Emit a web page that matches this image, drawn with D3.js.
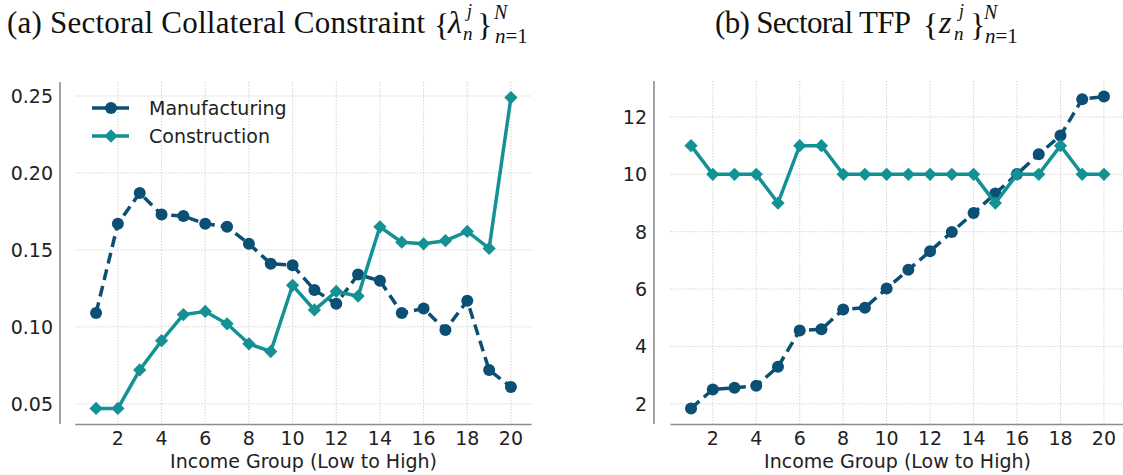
<!DOCTYPE html>
<html>
<head>
<meta charset="utf-8">
<script src="https://cdn.jsdelivr.net/npm/d3@7"></script>
<style>
  html, body { margin: 0; padding: 0; background: #fff; }
  svg { display: block; }
  .tick-label, .axis-title, .legend-label { font-family: "DejaVu Sans", sans-serif; fill: #222; }
  .title { font-family: "Liberation Serif", serif; fill: #111; }
</style>
</head>
<body>
<svg id="chart" width="1123" height="475"></svg>
<script>
// Income groups, lowest to highest
const groups = [1, 2, 3, 4, 5, 6, 7, 8, 9, 10, 11, 12, 13, 14, 15, 16, 17, 18, 19, 20];

// Sectoral collateral constraint lambda
const lambdaManufacturing = [0.109, 0.167, 0.187, 0.173, 0.172, 0.167, 0.165, 0.154, 0.141, 0.140,
                             0.124, 0.115, 0.134, 0.130, 0.109, 0.112, 0.098, 0.117, 0.072, 0.061];
const lambdaConstruction  = [0.047, 0.047, 0.072, 0.091, 0.108, 0.110, 0.102, 0.089, 0.084, 0.127,
                             0.111, 0.123, 0.120, 0.165, 0.155, 0.154, 0.156, 0.162, 0.151, 0.249];

// Sectoral TFP z
const tfpManufacturing = [1.84, 2.50, 2.56, 2.63, 3.29, 4.56, 4.60, 5.29, 5.35, 6.02,
                          6.67, 7.32, 7.99, 8.65, 9.33, 10.01, 10.70, 11.35, 12.62, 12.71];
const tfpConstruction  = [11, 10, 10, 10, 9, 11, 11, 10, 10, 10,
                          10, 10, 10, 10, 9, 10, 10, 11, 10, 10];

// Tick values
const xTicks = [2, 4, 6, 8, 10, 12, 14, 16, 18, 20];
const lambdaTicks = [0.05, 0.10, 0.15, 0.20, 0.25];
const tfpTicks = [2, 4, 6, 8, 10, 12];

const seriesNames = ["Manufacturing", "Construction"];
const colors = { Manufacturing: "#0b4f74", Construction: "#139195" };

const LINE_W = 3.5;
const DOT_R = 6;
const DASH = "11,6";

const svg = d3.select("#chart");

// 5% padding on both ends of a data range
function padded(values) {
  const [lo, hi] = d3.extent(values);
  const m = (hi - lo) * 0.05;
  return [lo - m, hi + m];
}

const diamond = d3.symbol().type(d3.symbolSquare).size(88);

function drawPanel(cfg) {
  const g = svg.append("g");
  const x = d3.scaleLinear().domain(padded(groups)).range([cfg.left, cfg.right]);
  const y = d3.scaleLinear().domain(padded(cfg.manufacturing.concat(cfg.construction)))
    .range([cfg.bottom, cfg.top]);

  // dotted grid
  const grid = g.append("g").attr("stroke", "#d4d4d4").attr("stroke-width", 1)
    .attr("stroke-dasharray", "1.5,1.5");
  grid.selectAll("line.v").data(xTicks).join("line")
    .attr("x1", d => x(d)).attr("x2", d => x(d))
    .attr("y1", cfg.top).attr("y2", cfg.bottom);
  grid.selectAll("line.h").data(cfg.yTicks).join("line")
    .attr("y1", d => y(d)).attr("y2", d => y(d))
    .attr("x1", cfg.left).attr("x2", cfg.right);

  // spines: left one set off from the plot area
  g.append("line").attr("x1", cfg.spineX).attr("x2", cfg.spineX)
    .attr("y1", cfg.top).attr("y2", cfg.bottom)
    .attr("stroke", "#8c8c8c").attr("stroke-width", 1.6);
  g.append("line").attr("x1", cfg.left).attr("x2", cfg.right)
    .attr("y1", cfg.bottom + 0.5).attr("y2", cfg.bottom + 0.5)
    .attr("stroke", "#8c8c8c").attr("stroke-width", 1.6);

  // tick labels
  g.selectAll("text.xt").data(xTicks).join("text")
    .attr("class", "tick-label").attr("font-size", 19)
    .attr("text-anchor", "middle")
    .attr("x", d => x(d)).attr("y", cfg.bottom + 21)
    .text(d => d);
  g.selectAll("text.yt").data(cfg.yTicks).join("text")
    .attr("class", "tick-label").attr("font-size", 19)
    .attr("text-anchor", "end").attr("dominant-baseline", "central")
    .attr("x", cfg.spineX - 7).attr("y", d => y(d))
    .text(cfg.yFormat);

  g.append("text").attr("class", "axis-title").attr("font-size", 19)
    .attr("text-anchor", "middle")
    .attr("x", (cfg.left + cfg.right) / 2).attr("y", cfg.bottom + 44)
    .text("Income Group (Low to High)");

  const line = d3.line().x((d, i) => x(groups[i])).y(d => y(d));

  // Manufacturing: dashed with circles
  g.append("path").datum(cfg.manufacturing)
    .attr("d", line).attr("fill", "none")
    .attr("stroke", colors.Manufacturing).attr("stroke-width", LINE_W)
    .attr("stroke-dasharray", DASH);
  g.selectAll("circle.m").data(cfg.manufacturing).join("circle")
    .attr("cx", (d, i) => x(groups[i])).attr("cy", d => y(d)).attr("r", DOT_R)
    .attr("fill", colors.Manufacturing);

  // Construction: solid with diamonds
  g.append("path").datum(cfg.construction)
    .attr("d", line).attr("fill", "none")
    .attr("stroke", colors.Construction).attr("stroke-width", LINE_W);
  g.selectAll("path.c").data(cfg.construction).join("path")
    .attr("d", diamond)
    .attr("transform", (d, i) => `translate(${x(groups[i])},${y(d)}) rotate(45)`)
    .attr("fill", colors.Construction);

  return { x, y };
}

drawPanel({
  left: 75.3, right: 531.7, top: 82, bottom: 424, spineX: 60,
  manufacturing: lambdaManufacturing, construction: lambdaConstruction,
  yTicks: lambdaTicks, yFormat: d3.format(".2f")
});

drawPanel({
  left: 670.4, right: 1124.6, top: 81, bottom: 424, spineX: 654,
  manufacturing: tfpManufacturing, construction: tfpConstruction,
  yTicks: tfpTicks, yFormat: d3.format("d")
});

// Legend
const legend = svg.append("g");
seriesNames.forEach((name, i) => {
  const ly = 108 + i * 28;
  const c = colors[name];
  legend.append("line").attr("x1", 92).attr("x2", 129).attr("y1", ly).attr("y2", ly)
    .attr("stroke", c).attr("stroke-width", LINE_W);
  if (name === "Manufacturing") {
    legend.append("circle").attr("cx", 111).attr("cy", ly).attr("r", DOT_R).attr("fill", c);
  } else {
    legend.append("path").attr("d", diamond)
      .attr("transform", `translate(111,${ly}) rotate(45)`).attr("fill", c);
  }
  legend.append("text").attr("class", "legend-label").attr("font-size", 19)
    .attr("x", 149).attr("y", ly).attr("dominant-baseline", "central").text(name);
});

// Panel titles with set notation {sym_n^j}_{n=1}^N
function title(cfg) {
  const t = svg.append("g").attr("class", "title");
  t.append("text").attr("x", cfg.x).attr("y", 33).attr("font-size", 31)
    .attr("textLength", cfg.len).attr("lengthAdjust", "spacing").text(cfg.text);
  t.append("text").attr("x", cfg.brace).attr("y", 36).attr("font-size", 32).text("{");
  t.append("text").attr("x", cfg.sym).attr("y", 33).attr("font-size", 32)
    .attr("font-style", "italic").text(cfg.symbol);
  t.append("text").attr("x", cfg.sup).attr("y", 17).attr("font-size", 18)
    .attr("font-style", "italic").text("j");
  t.append("text").attr("x", cfg.sub).attr("y", 40).attr("font-size", 19)
    .attr("font-style", "italic").text("n");
  t.append("text").attr("x", cfg.close).attr("y", 36).attr("font-size", 32).text("}");
  t.append("text").attr("x", cfg.nx).attr("y", 19).attr("font-size", 20)
    .attr("font-style", "italic").text("N");
  const s = t.append("text").attr("x", cfg.nx + 1).attr("y", 43).attr("font-size", 21);
  s.append("tspan").attr("font-style", "italic").text("n");
  s.append("tspan").text("=1");
}

title({ x: 7, len: 418, text: "(a) Sectoral Collateral Constraint",
        brace: 434, sym: 448, symbol: "λ", sup: 467, sub: 463, close: 477, nx: 494 });
title({ x: 715, len: 196, text: "(b) Sectoral TFP",
        brace: 923, sym: 939, symbol: "z", sup: 959, sub: 954, close: 970, nx: 984 });
</script>
</body>
</html>
